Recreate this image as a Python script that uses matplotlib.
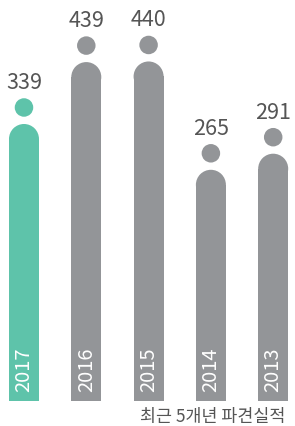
import matplotlib

matplotlib.use("Agg")
import matplotlib.pyplot as plt
from matplotlib.patches import Rectangle, Ellipse

plt.rcParams["font.family"] = ["Noto Sans CJK KR", "DejaVu Sans"]

# 데이터
years = ["2017", "2016", "2015", "2014", "2013"]
counts = [339, 439, 440, 265, 291]
caption = "최근 5개년 파견실적"

TEAL = "#5ec3aa"
GRAY = "#939598"
LABEL = "#555555"
BASE = -108.0  # bars start below zero so short bars still look tall

W, H = 295, 426
fig = plt.figure(figsize=(W / 100, H / 100), dpi=100)
ax = fig.add_axes([0, 0, 1, 1])
ax.set_xlim(-0.385, 4.35)
ax.set_ylim(-148.9, 539.3)
ax.axis("off")

# 픽셀 -> 데이터 단위 변환
px_x = W / (ax.get_xlim()[1] - ax.get_xlim()[0])
px_y = H / (ax.get_ylim()[1] - ax.get_ylim()[0])
bar_w = 30 / px_x
cap_h = 15 / px_y

for i, (yr, v) in enumerate(zip(years, counts)):
    color = TEAL if i == 0 else GRAY
    ax.add_patch(Rectangle((i - bar_w / 2, BASE), bar_w, v - cap_h - BASE,
                           facecolor=color, edgecolor="none"))
    ax.add_patch(Ellipse((i, v - cap_h), bar_w, 2 * cap_h, facecolor=color, edgecolor="none"))
    # 점
    ax.add_patch(Ellipse((i, v + 16.5 / px_y), 18.5 / px_x, 18.5 / px_y,
                         facecolor=color, edgecolor="none"))
    ax.text(i, v + 41 / px_y, f"{v}", ha="center", va="center", fontsize=15.5,
            color=LABEL, fontweight="light")
    ax.text(i, BASE + 9 / px_y, yr, ha="center", va="bottom", rotation=90,
            fontsize=14.5, color="white", fontweight="light")

fig.text(285 / W, 9 / H, caption, ha="right", va="center", fontsize=12.5, color=LABEL)

fig.savefig("out.png", dpi=100)
